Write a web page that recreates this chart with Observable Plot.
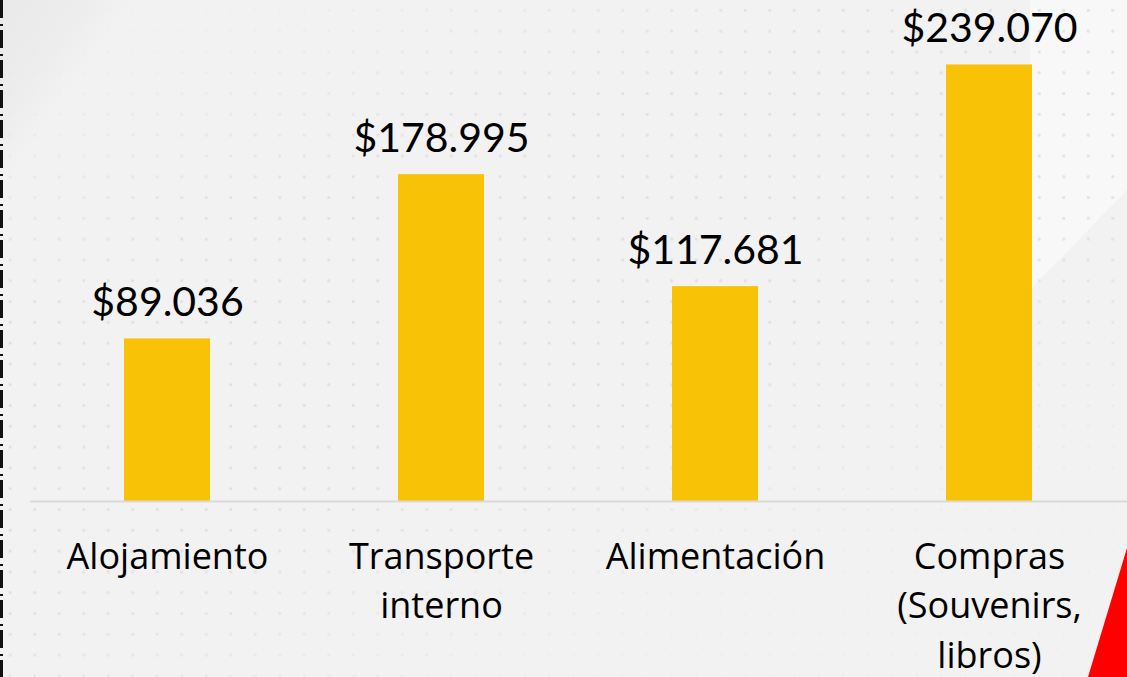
<!DOCTYPE html>
<html>
<head>
<meta charset="utf-8">
<script src="https://cdn.jsdelivr.net/npm/d3@7"></script>
<script src="https://cdn.jsdelivr.net/npm/@observablehq/plot@0.6"></script>
<style>
  html, body { margin: 0; padding: 0; background: #f2f2f2; }
  #wrap { position: relative; width: 1127px; height: 677px; overflow: hidden; background: #f2f2f2; }
  #swoosh { position: absolute; left: 0; top: 0; width: 1127px; height: 677px;
    background: linear-gradient(125deg, #e9e9e9 0px, #ececec 60px, rgba(242,242,242,0) 110px); }
  #light { position: absolute; left: 0; top: 0; width: 1127px; height: 677px;
    background: #f8f8f8; clip-path: polygon(1010px 0, 1127px 0, 1127px 190px, 1030px 290px, 1030px 0); }
  #dots { position: absolute; left: 0; top: 0; width: 1127px; height: 677px;
    background-image: radial-gradient(circle, #dcdcdc 1.3px, rgba(0,0,0,0) 1.8px);
    background-size: 24.5px 20.8px; background-position: -2px 0px; opacity: 0.75;
    -webkit-mask-image: linear-gradient(160deg, rgba(0,0,0,0) 0%, rgba(0,0,0,0.2) 10%, #000 30%, #000 55%, rgba(0,0,0,0.2) 80%);
    mask-image: linear-gradient(160deg, rgba(0,0,0,0) 0%, rgba(0,0,0,0.2) 10%, #000 30%, #000 55%, rgba(0,0,0,0.2) 80%); }
  #dash { position: absolute; left: 0; top: 0; width: 3px; height: 677px;
    background: repeating-linear-gradient(to bottom, #111 0px, #111 18px, rgba(0,0,0,0) 18px, rgba(0,0,0,0) 24px, #111 24px, #111 26px, rgba(0,0,0,0) 26px, rgba(0,0,0,0) 30px); }
  #red { position: absolute; left: 0; top: 0; width: 1127px; height: 677px; background: #ff0000;
    clip-path: polygon(1127px 548px, 1127px 677px, 1088px 677px); }
  #chart { position: absolute; left: 0; top: 0; }
</style>
</head>
<body>
<div id="wrap">
  <div id="swoosh"></div>
  <div id="light"></div>
  <div id="dots"></div>
  <div id="dash"></div>
  <div id="red"></div>
  <div id="chart"></div>
</div>
<script>
const categories = ["Alojamiento", "Transporte interno", "Alimentación", "Compras (Souvenirs, libros)"];
const tickLabels = ["Alojamiento", "Transporte\ninterno", "Alimentación", "Compras\n(Souvenirs,\nlibros)"];
const values = [89036, 178995, 117681, 239070];

const data = categories.map((c, i) => ({category: c, value: values[i]}));
const locale = d3.formatLocale({decimal: ",", thousands: ".", grouping: [3], currency: ["$", ""]});
const fmt = locale.format("$,.0f");

const chart = Plot.plot({
  width: 1127,
  height: 677,
  marginLeft: 30,
  marginRight: 0,
  marginTop: 0,
  marginBottom: 176,
  style: {background: "transparent", overflow: "visible"},
  x: {domain: categories, paddingInner: 0.686, paddingOuter: 0.343, label: null},
  y: {domain: [0, 274370], axis: null},
  marks: [
    Plot.barY(data, {x: "category", y: "value", fill: "#F8C307"}),
    Plot.ruleY([0], {stroke: "#d9d9d9", strokeWidth: 2}),
    Plot.text(data, {x: "category", y: "value", text: d => fmt(d.value), lineAnchor: "bottom", dy: -23,
      fontSize: 41, fontFamily: "Lato", fill: "#000"}),
    Plot.axisX({tickSize: 0, tickPadding: 32, fontSize: 36, lineHeight: 1.375, fontFamily: "Open Sans",
      fill: "#000", tickFormat: (d) => tickLabels[categories.indexOf(d)], label: null})
  ]
});
document.getElementById("chart").appendChild(chart);
</script>
</body>
</html>
